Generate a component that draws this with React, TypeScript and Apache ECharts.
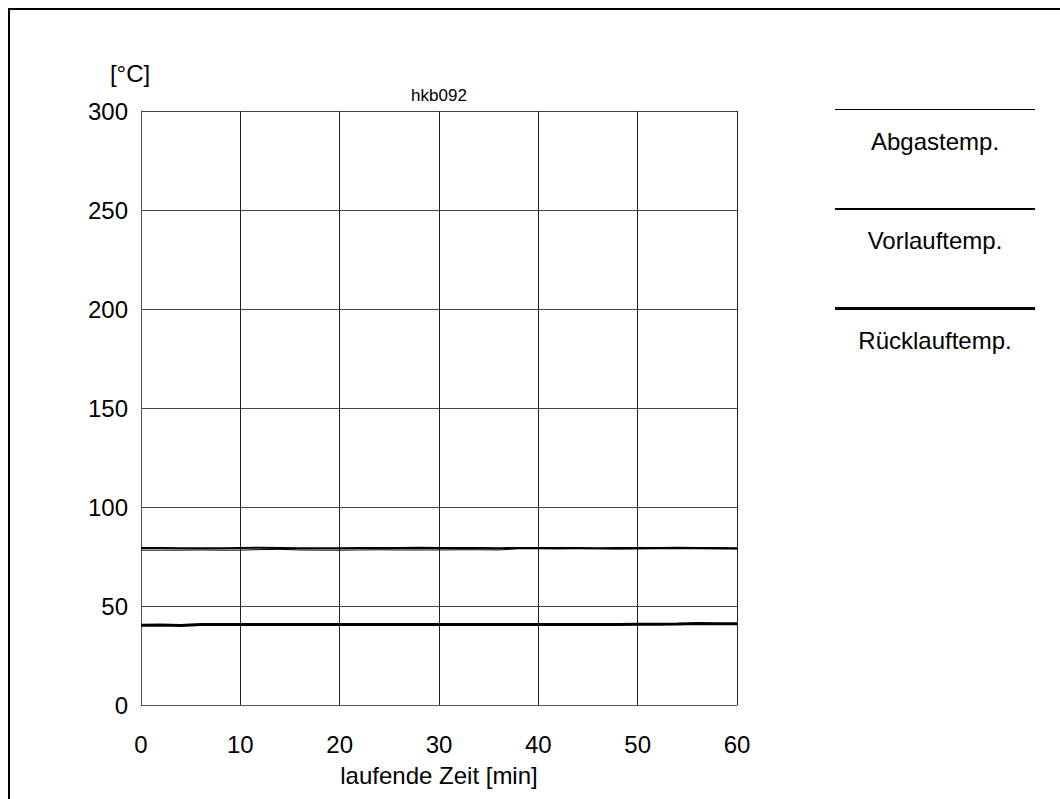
import React, { useEffect, useRef } from "react";
import * as echarts from "echarts";

// Running time in minutes (sampled every 2 min)
const zeit = [0, 2, 4, 6, 8, 10, 12, 14, 16, 18, 20, 22, 24, 26, 28, 30, 32, 34, 36, 38, 40, 42, 44, 46, 48, 50, 52, 54, 56, 58, 60];

// Temperatures in °C
const abgastemp = [78.2, 78.2, 78.2, 78.3, 78.2, 78.2, 78.5, 78.6, 78.3, 78.2, 78.2, 78.3, 78.4, 78.3, 78.3, 78.3, 78.4, 78.4, 78.3, 78.9, 78.9, 78.8, 78.9, 78.9, 78.7, 78.8, 78.9, 78.9, 78.9, 78.8, 78.8];
const vorlauftemp = [79.3, 79.3, 79.2, 79.2, 79.2, 79.3, 79.4, 79.3, 79.2, 79.2, 79.2, 79.3, 79.3, 79.3, 79.4, 79.3, 79.3, 79.3, 79.2, 79.3, 79.3, 79.3, 79.3, 79.2, 79.3, 79.3, 79.3, 79.4, 79.3, 79.3, 79.2];
const ruecklauftemp = [40.3, 40.4, 40.2, 40.6, 40.7, 40.7, 40.7, 40.7, 40.7, 40.7, 40.7, 40.7, 40.7, 40.7, 40.7, 40.7, 40.7, 40.7, 40.7, 40.7, 40.7, 40.7, 40.7, 40.7, 40.7, 40.8, 40.8, 40.9, 41.1, 41.0, 41.0];

const seriesNames = ["Abgastemp.", "Vorlauftemp.", "Rücklauftemp."];
const lineWidths = [1, 2, 3];

const yTicks = { min: 0, max: 300, interval: 50 };
const xTicks = { min: 0, max: 60, interval: 10 };

const FONT = "Arial, 'Liberation Sans', sans-serif";
const FS = 24;

export default function App() {
  const ref = useRef<HTMLDivElement>(null);

  useEffect(() => {
    if (!ref.current) return;
    const chart = echarts.init(ref.current, undefined, { renderer: "svg" });

    const pair = (ys: number[]) => zeit.map((x, i) => [x, ys[i]]);
    const allData = [abgastemp, vorlauftemp, ruecklauftemp];

    const legendX0 = 835;
    const legendX1 = 1035;
    const legendY = [109.5, 209, 308.5];

    const graphics: any[] = [
      // frame (left and top edges visible)
      { type: "line", shape: { x1: 9, y1: 9, x2: 9, y2: 799 }, style: { stroke: "#000", lineWidth: 2 } },
      { type: "line", shape: { x1: 8, y1: 9, x2: 1060, y2: 9 }, style: { stroke: "#000", lineWidth: 2 } },
      { type: "text", x: 130, y: 73, style: { text: "[°C]", fill: "#000", font: `${FS}px ${FONT}`, align: "center", verticalAlign: "middle" } },
      { type: "text", x: 439, y: 95, style: { text: "hkb092", fill: "#000", font: `17px ${FONT}`, align: "center", verticalAlign: "middle" } },
      { type: "text", x: 439, y: 775, style: { text: "laufende Zeit [min]", fill: "#000", font: `${FS}px ${FONT}`, align: "center", verticalAlign: "middle" } },
    ];
    seriesNames.forEach((name, i) => {
      graphics.push({
        type: "line",
        shape: { x1: legendX0, y1: legendY[i], x2: legendX1, y2: legendY[i] },
        style: { stroke: "#000", lineWidth: lineWidths[i] },
      });
      graphics.push({
        type: "text",
        x: (legendX0 + legendX1) / 2,
        y: Math.round(legendY[i]) + 31,
        style: { text: name, fill: "#000", font: `${FS}px ${FONT}`, align: "center", verticalAlign: "middle" },
      });
    });

    chart.setOption({
      animation: false,
      backgroundColor: "#fff",
      grid: { left: 141, top: 111, width: 596, height: 594, show: false },
      xAxis: {
        type: "value",
        ...xTicks,
        axisLine: { show: true, lineStyle: { color: "#555", width: 1 } },
        axisTick: { show: false },
        axisLabel: { color: "#000", fontSize: FS, fontFamily: FONT, margin: 27 },
        splitLine: { show: true, lineStyle: { color: "#222", width: 1 } },
      },
      yAxis: {
        type: "value",
        ...yTicks,
        axisLine: { show: true, lineStyle: { color: "#555", width: 1 } },
        axisTick: { show: false },
        axisLabel: { color: "#000", fontSize: FS, fontFamily: FONT, margin: 13 },
        splitLine: { show: true, lineStyle: { color: "#444", width: 1 } },
      },
      series: seriesNames.map((name, i) => ({
        name,
        type: "line",
        data: pair(allData[i]),
        showSymbol: false,
        symbol: "none",
        lineStyle: { color: "#000", width: lineWidths[i] },
        z: 3 + i,
      })),
      graphic: graphics,
    });

    return () => chart.dispose();
  }, []);

  return <div ref={ref} style={{ position: "fixed", left: 0, top: 0, width: 1060, height: 799 }} />;
}
